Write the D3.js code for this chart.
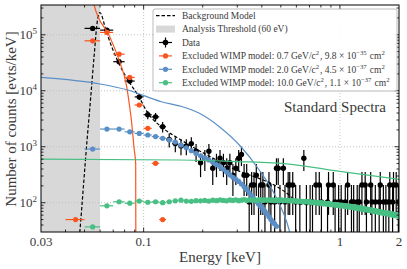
<!DOCTYPE html>
<html>
<head>
<meta charset="utf-8">
<script src="https://cdn.jsdelivr.net/npm/d3@7"></script>
<style>
body { margin: 0; background: #fff; }
text { font-family: "Liberation Serif", "DejaVu Serif", serif; fill: #3a3a3a; }
</style>
</head>
<body>
<svg id="chart"></svg>
<script>
const W = 407, H = 269

// --- data ---
// 10 eV bins, the first data bin is centred on 55 eV
const binWidth = 0.01
const binCenters = d3.range(195).map(i => +(0.055 + i * binWidth).toFixed(3))
const countUnit = 103.5  // evts/keV for one count in a bin

const dataCounts = [
  1256, 1169, 319, 144, 75, 36, 33, 22, 13, 11,
  10, 10, 11, 8, 5, 6, 8, 4, 5, 6,
  5, 4, 5, 3, 4, 6, 7, 3, 3, 1,
  2, 2, 3, 1, 2, 2, 1, 0, 2, 1,
  0, 1, 4, 4, 1, 0, 4, 1, 0, 2,
  2, 0, 2, 0, 1, 0, 0, 1, 0, 0,
  6, 0, 1, 0, 0, 1, 0, 1, 0, 0,
  2, 0, 0, 2, 0, 1, 0, 0, 0, 0,
  0, 1, 2, 0, 0, 0, 0, 2, 0, 1,
  0, 0, 0, 1, 0, 0, 1, 0, 0, 0,
  0, 1, 0, 0, 2, 0, 0, 0, 0, 1,
  0, 0, 1, 0, 0, 0, 0, 1, 0, 0,
  1, 0, 0, 0, 2, 0, 0, 0, 0, 2,
  0, 1, 0, 0, 0, 0, 0, 0, 2, 0,
  1, 0, 0, 0, 0, 0, 1, 0, 0, 0,
  0, 0, 0, 1, 0, 2, 0, 0, 0, 0,
  0, 1, 0, 0, 0, 0, 1, 0, 0, 0,
  0, 0, 1, 0, 2, 0, 0, 0, 0, 0,
  1, 0, 2, 0, 0, 0, 0, 0, 2, 0,
  0, 0, 0, 1, 0
]

const orangeBinE = [0.045, 0.055, 0.065, 0.075, 0.085, 0.095, 0.105, 0.115, 0.125]
const orangeBinVals = [50, 78000, 110000, 45000, 17300, 5560, 2130, 506, 50]

const blueBinVals = [
  910, 2070, 2070, 1850, 1730, 1620, 1520, 1413, 1318, 1213,
  1072, 960, 850, 760, 690, 630, 580, 530, 481, 440,
  395, 353, 315, 285, 262, 240, 216, 192, 172, 150,
  133, 117, 104, 95, 86, 77, 70, 63, 56, 50,
  45, 42, 38
]

const greenBinVals = [
  37, 88, 104, 98, 107, 102, 104, 100, 104, 108,
  111, 107, 106, 109, 108, 110, 107, 111, 109, 112,
  110, 108, 112, 110, 113, 109, 111, 114, 110, 112,
  111, 113, 109, 112, 114, 110, 112, 111, 113, 110,
  112, 109, 111, 113, 110, 112, 108, 111, 109, 110,
  108, 110, 107, 109, 106, 108, 105, 107, 104, 106,
  105, 103, 106, 104, 102, 105, 101, 103, 100, 102,
  100, 98, 101, 99, 97, 100, 96, 98, 95, 97,
  96, 94, 97, 93, 95, 92, 94, 93, 91, 94,
  92, 90, 93, 89, 91, 90, 88, 91, 87, 89,
  88, 86, 89, 85, 87, 86, 84, 87, 83, 85,
  84, 82, 85, 81, 83, 82, 80, 83, 79, 81,
  80, 78, 81, 77, 79, 78, 76, 79, 75, 77,
  76, 75, 77, 74, 76, 73, 75, 74, 72, 74,
  73, 71, 73, 72, 70, 72, 71, 69, 71, 70,
  70, 68, 70, 69, 67, 69, 68, 66, 68, 67,
  67, 65, 67, 66, 64, 66, 65, 64, 66, 64,
  64, 63, 65, 62, 64, 63, 61, 63, 62, 61,
  63, 61, 60, 62, 61, 59, 61, 60, 59, 61,
  60, 58, 60, 59, 58
]

// smooth model curves
const bkgE = [0.0465, 0.0473, 0.0515, 0.0536, 0.0559, 0.0582, 0.0598, 0.0646, 0.0698, 0.0755, 0.0832, 0.0935, 0.1051, 0.1253, 0.1553, 0.2733, 0.551, 0.619, 1.0, 2.0]
const bkgVals = [15, 30, 1318, 6820, 40400, 183000, 250000, 113000, 53400, 28800, 15500, 8370, 4000, 2160, 1318, 440, 137, 95, 88, 62]

const orangeE = [0.0545, 0.0559, 0.0672, 0.0755, 0.0817, 0.0849, 0.0866, 0.0895, 0.0911, 0.0913]
const orangeVals = [600000, 343000, 92000, 33000, 12600, 5180, 3000, 900, 500, 10]

const blueE = [0.03, 0.06, 0.0832, 0.123, 0.156, 0.1924, 0.243, 0.3133, 0.388, 0.4716, 0.551, 0.58]
const blueVals = [17300, 13200, 10300, 6370, 5230, 3950, 2280, 1000, 384, 128, 32.6, 15]

const greenE = [0.03, 0.152, 0.3, 0.551, 1.0, 2.0]
const greenVals = [603, 579, 544, 491, 364, 262]

const xTickLabels = [0.03, 0.1, 1, 2]
const yTickExps = [2, 3, 4, 5]
const thresholdE = 0.06

const cOrange = "#f9561f", cBlue = "#5a8fc6", cGreen = "#48bf83"

// --- drawing ---
let svg = d3.select("#chart").attr("width", W).attr("height", H)
let x = d3.scaleLog().domain([0.03, 2]).range([41, 399])
let y = d3.scaleLog().domain([30, 3.4e5]).range([232, 5])
const [x0, x1] = x.range(), [y0, y1] = y.range()

svg.append("clipPath").attr("id", "clip")
  .append("rect").attr("x", x0).attr("y", y1).attr("width", x1 - x0).attr("height", y0 - y1)

let plot = svg.append("g").attr("clip-path", "url(#clip)")

// threshold band
plot.append("rect")
  .attr("x", x(0.03)).attr("y", y1)
  .attr("width", x(thresholdE) - x(0.03)).attr("height", y0 - y1)
  .attr("fill", "#d8d8d8")

// grid
let grid = plot.append("g").attr("stroke", "#b5b5b5").attr("stroke-width", 0.8).attr("stroke-dasharray", "1,2")
yTickExps.forEach(e => grid.append("line").attr("x1", x0).attr("x2", x1).attr("y1", y(10 ** e)).attr("y2", y(10 ** e)))
;[0.1, 1].forEach(v => grid.append("line").attr("x1", x(v)).attr("x2", x(v)).attr("y1", y0).attr("y2", y1))

let line = d3.line().x(d => x(d[0])).y(d => y(d[1])).curve(d3.curveMonotoneX)
function curve(es, vs, color, dash) {
  plot.append("path")
    .datum(es.map((e, i) => [e, vs[i]]))
    .attr("d", line)
    .attr("fill", "none")
    .attr("stroke", color)
    .attr("stroke-width", 1.2)
    .attr("stroke-dasharray", dash || null)
}

function binnedPoints(es, vs, color, r) {
  let g = plot.append("g")
  let pts = es.map((e, i) => [e, vs[i]])
  g.selectAll("line").data(pts).enter().append("line")
    .attr("x1", d => x(d[0] - binWidth / 2)).attr("x2", d => x(d[0] + binWidth / 2))
    .attr("y1", d => y(d[1])).attr("y2", d => y(d[1]))
    .attr("stroke", color).attr("stroke-width", 1.2)
  g.selectAll("circle").data(pts).enter().append("circle")
    .attr("cx", d => x(d[0])).attr("cy", d => y(d[1])).attr("r", r)
    .attr("fill", color)
}

curve(bkgE, bkgVals, "#000", "3.5,2")

// data with poisson errors (drawn before the models, as in the original)
let dataPts = binCenters.map((e, i) => [e, dataCounts[i]]).filter(d => d[1] > 0)
let dg = plot.append("g").attr("stroke", "#000").attr("stroke-width", 1.2)
dg.selectAll("line.h").data(dataPts).enter().append("line").attr("class", "h")
  .attr("x1", d => x(d[0] - binWidth / 2)).attr("x2", d => x(d[0] + binWidth / 2))
  .attr("y1", d => y(d[1] * countUnit)).attr("y2", d => y(d[1] * countUnit))
dg.selectAll("line.v").data(dataPts).enter().append("line").attr("class", "v")
  .attr("x1", d => x(d[0])).attr("x2", d => x(d[0]))
  .attr("y1", d => y((d[1] + Math.sqrt(d[1])) * countUnit))
  .attr("y2", d => {
    let lo = (d[1] - Math.sqrt(d[1])) * countUnit
    return lo > 0 ? y(lo) : y0 + 5
  })
dg.selectAll("circle").data(dataPts).enter().append("circle")
  .attr("cx", d => x(d[0])).attr("cy", d => y(d[1] * countUnit)).attr("r", 2.7)
  .attr("fill", "#000").attr("stroke", "none")

binnedPoints(orangeBinE, orangeBinVals, cOrange, 2.6)
curve(orangeE, orangeVals, cOrange)
binnedPoints(binCenters.slice(0, blueBinVals.length), blueBinVals, cBlue, 2.6)
curve(blueE, blueVals, cBlue)
binnedPoints(binCenters.slice(0, greenBinVals.length), greenBinVals, cGreen, 2.6)
curve(greenE, greenVals, cGreen)

// axes frame + ticks (inward on all sides)
let axes = svg.append("g").attr("stroke", "#000")
axes.append("rect").attr("x", x0).attr("y", y1).attr("width", x1 - x0).attr("height", y0 - y1)
  .attr("fill", "none").attr("stroke-width", 1)

let xMajor = [0.1, 1]
let xMinor = [0.04, 0.05, 0.06, 0.07, 0.08, 0.09, 0.2, 0.3, 0.4, 0.5, 0.6, 0.7, 0.8, 0.9]
let yMajor = yTickExps.map(e => 10 ** e)
let yMinor = []
;[1, 2, 3, 4, 5].forEach(e => d3.range(2, 10).forEach(m => {
  let v = m * 10 ** e
  if (v > 30 && v < 3.4e5) yMinor.push(v)
}))
function xTicks(vals, len) {
  vals.forEach(v => {
    axes.append("line").attr("x1", x(v)).attr("x2", x(v)).attr("y1", y0).attr("y2", y0 - len).attr("stroke-width", 0.8)
    axes.append("line").attr("x1", x(v)).attr("x2", x(v)).attr("y1", y1).attr("y2", y1 + len).attr("stroke-width", 0.8)
  })
}
function yTicks(vals, len) {
  vals.forEach(v => {
    axes.append("line").attr("y1", y(v)).attr("y2", y(v)).attr("x1", x0).attr("x2", x0 + len).attr("stroke-width", 0.8)
    axes.append("line").attr("y1", y(v)).attr("y2", y(v)).attr("x1", x1).attr("x2", x1 - len).attr("stroke-width", 0.8)
  })
}
xTicks(xMajor, 4.5)
xTicks(xMinor, 2.5)
yTicks(yMajor, 4.5)
yTicks(yMinor, 2.5)

// tick labels
svg.append("g").selectAll("text").data(xTickLabels).enter().append("text")
  .attr("x", d => x(d)).attr("y", 246)
  .attr("text-anchor", "middle").attr("font-size", 13)
  .text(d => d)

function richText(sel, parts, supSize) {
  parts.forEach(p => {
    if (p[1]) {
      sel.append("tspan").attr("dy", -supSize * 0.55).attr("font-size", supSize).text(p[0])
      sel.append("tspan").attr("dy", supSize * 0.55).text("\u200a")
    } else {
      sel.append("tspan").text(p[0])
    }
  })
}

yTickExps.forEach(e => {
  let t = svg.append("text").attr("x", 38).attr("y", y(10 ** e) + 4.5)
    .attr("text-anchor", "end").attr("font-size", 13)
  richText(t, [["10"], [String(e), true]], 9)
})

svg.append("text").attr("x", 220).attr("y", 262).attr("text-anchor", "middle")
  .attr("font-size", 15).text("Energy [keV]")
svg.append("text").attr("transform", "translate(16,119) rotate(-90)")
  .attr("text-anchor", "middle").attr("font-size", 15)
  .text("Number of counts [evts/keV]")

svg.append("text").attr("x", 335).attr("y", 112).attr("text-anchor", "middle")
  .attr("font-size", 15).text("Standard Spectra")

// legend
let lg = svg.append("g")
lg.append("rect").attr("x", 153).attr("y", 9).attr("width", 244).attr("height", 82).attr("rx", 2)
  .attr("fill", "#fff").attr("fill-opacity", 0.9).attr("stroke", "#aaa").attr("stroke-width", 0.8)

const legendRows = [
  {kind: "dash", parts: [["Background Model"]]},
  {kind: "band", parts: [["Analysis Threshold (60 eV)"]]},
  {kind: "data", parts: [["Data"]]},
  {kind: "model", color: cOrange, parts: [["Excluded WIMP model: 0.7 GeV/c"], ["2", true], [", 9.8 \u00d7 10"], ["\u221235", true], [" cm"], ["2", true]]},
  {kind: "model", color: cBlue, parts: [["Excluded WIMP model: 2.0 GeV/c"], ["2", true], [", 4.5 \u00d7 10"], ["\u221237", true], [" cm"], ["2", true]]},
  {kind: "model", color: cGreen, parts: [["Excluded WIMP model: 10.0 GeV/c"], ["2", true], [", 1.1 \u00d7 10"], ["\u221237", true], [" cm"], ["2", true]]}
]
legendRows.forEach((row, i) => {
  let cy = 15.7 + i * 13.4
  let hx0 = 156, hx1 = 175, hm = (hx0 + hx1) / 2
  if (row.kind === "dash") {
    lg.append("line").attr("x1", hx0).attr("x2", hx1).attr("y1", cy).attr("y2", cy)
      .attr("stroke", "#000").attr("stroke-width", 1.2).attr("stroke-dasharray", "3.5,2")
  } else if (row.kind === "band") {
    lg.append("rect").attr("x", hx0).attr("y", cy - 3.5).attr("width", hx1 - hx0).attr("height", 7).attr("fill", "#d8d8d8")
  } else if (row.kind === "data") {
    lg.append("line").attr("x1", hx0 + 3).attr("x2", hx1 - 3).attr("y1", cy).attr("y2", cy).attr("stroke", "#000").attr("stroke-width", 1.2)
    lg.append("line").attr("x1", hm).attr("x2", hm).attr("y1", cy - 5).attr("y2", cy + 5).attr("stroke", "#000").attr("stroke-width", 1.2)
    lg.append("circle").attr("cx", hm).attr("cy", cy).attr("r", 2.8).attr("fill", "#000")
  } else {
    lg.append("line").attr("x1", hx0 + 3).attr("x2", hx1 - 3).attr("y1", cy).attr("y2", cy).attr("stroke", row.color).attr("stroke-width", 1.2)
    lg.append("circle").attr("cx", hm).attr("cy", cy).attr("r", 2.6).attr("fill", row.color)
  }
  let t = lg.append("text").attr("x", 182).attr("y", cy + 3.2).attr("font-size", 9.5)
  richText(t, row.parts, 6.7)
})
</script>
</body>
</html>
